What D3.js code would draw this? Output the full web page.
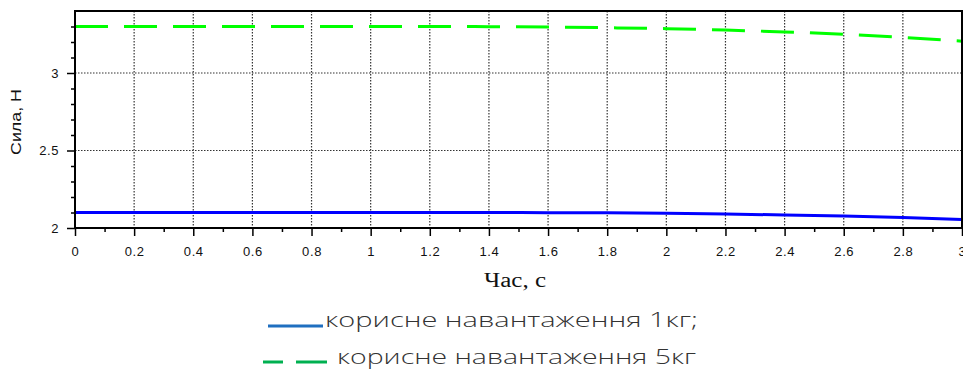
<!DOCTYPE html>
<html><head><meta charset="utf-8">
<script src="https://cdn.jsdelivr.net/npm/d3@7/dist/d3.min.js"></script>
<style>
html,body{margin:0;padding:0;background:#fff;}
svg{display:block;}
</style></head>
<body><svg id="c" width="963" height="370"></svg>
<script>
const time = [0,0.2,0.4,0.6,0.8,1.0,1.2,1.4,1.6,1.8,2.0,2.2,2.4,2.6,2.8,3.0];
const load1kg = [2.100,2.100,2.100,2.100,2.100,2.100,2.100,2.100,2.099,2.098,2.095,2.090,2.084,2.077,2.068,2.055];
const load5kg = [3.300,3.300,3.300,3.300,3.300,3.300,3.300,3.299,3.297,3.292,3.286,3.277,3.265,3.250,3.230,3.205];
const xTicks = [0,0.2,0.4,0.6,0.8,1,1.2,1.4,1.6,1.8,2,2.2,2.4,2.6,2.8,3];
const xMinor = [0.1,0.3,0.5,0.7,0.9,1.1,1.3,1.5,1.7,1.9,2.1,2.3,2.5,2.7,2.9];
const yTicks = [2,2.5,3];
const yMinor = [2.1,2.2,2.3,2.4,2.6,2.7,2.8,2.9,3.1,3.2,3.3];
const xTitle = "Час, с";
const yTitle = "Сила, Н";
const legendLabels = ["корисне навантаження 1кг;", "корисне навантаження 5кг"];

const svg = d3.select("#c");
const L = 75, R = 962, T = 11, B = 228;
const x = d3.scaleLinear().domain([0,3]).range([L,R]);
const y = d3.scaleLinear().domain([2,3.4]).range([B,T]);
const sans = "'Liberation Sans', Arial, sans-serif";

// grid
const g = svg.append("g");
g.selectAll(".vg").data(xTicks.filter(d=>d>0&&d<3)).enter().append("line")
  .attr("x1",d=>x(d)).attr("x2",d=>x(d)).attr("y1",T).attr("y2",B)
  .attr("stroke","#333").attr("stroke-width",1.2).attr("stroke-dasharray","1.5,1.5");
g.selectAll(".hg").data(yTicks.filter(d=>d>2)).enter().append("line")
  .attr("x1",L).attr("x2",R).attr("y1",d=>y(d)).attr("y2",d=>y(d))
  .attr("stroke","#333").attr("stroke-width",1.2).attr("stroke-dasharray","1.5,1.5");

// series
const line = (vals)=>d3.line().x((d,i)=>x(time[i])).y(d=>y(d)).curve(d3.curveMonotoneX)(vals);
svg.append("path").attr("d",line(load1kg)).attr("fill","none").attr("stroke","#0000ff").attr("stroke-width",3);
svg.append("path").attr("d",line(load5kg)).attr("fill","none").attr("stroke","#00ff00").attr("stroke-width",3)
  .attr("stroke-dasharray","33,16");

// axes
const xAx = svg.append("g").attr("transform",`translate(0,${B})`)
  .call(d3.axisBottom(x).tickValues(xTicks).tickSize(8).tickPadding(11).tickFormat(d=>String(+d.toFixed(1))));
const xAxMin = svg.append("g").attr("transform",`translate(0,${B})`)
  .call(d3.axisBottom(x).tickValues(xMinor).tickSize(4).tickFormat(""));
const yAx = svg.append("g").attr("transform",`translate(${L},0)`)
  .call(d3.axisLeft(y).tickValues(yTicks).tickSize(8).tickPadding(8).tickFormat(d=>String(d)));
const yAxMin = svg.append("g").attr("transform",`translate(${L},0)`)
  .call(d3.axisLeft(y).tickValues(yMinor).tickSize(4).tickFormat(""));
[xAx,xAxMin,yAx,yAxMin].forEach(a=>{
  a.selectAll(".domain").remove();
  a.selectAll(".tick line").attr("stroke","#000").attr("stroke-width",1.5);
  a.selectAll("text").attr("font-family",sans).attr("font-size",13).attr("fill","#111").attr("letter-spacing","0.6px");
});
// frame
svg.append("line").attr("x1",L).attr("x2",L).attr("y1",T-1).attr("y2",B+1).attr("stroke","#000").attr("stroke-width",2);
svg.append("line").attr("x1",L).attr("x2",R).attr("y1",B).attr("y2",B).attr("stroke","#000").attr("stroke-width",2);
svg.append("line").attr("x1",L).attr("x2",R).attr("y1",T).attr("y2",T).attr("stroke","#000").attr("stroke-width",2);
svg.append("line").attr("x1",R).attr("x2",R).attr("y1",T-1).attr("y2",B+1).attr("stroke","#000").attr("stroke-width",2);

// titles
svg.append("text").text(xTitle).attr("x",515).attr("y",287).attr("text-anchor","middle")
  .attr("font-family","'Liberation Serif','Times New Roman',serif").attr("font-size",20).attr("fill","#111")
  .attr("textLength",62).attr("lengthAdjust","spacingAndGlyphs");
svg.append("text").text(yTitle).attr("transform","translate(21,122) rotate(-90)").attr("text-anchor","middle")
  .attr("font-family",sans).attr("font-size",15).attr("fill","#111")
  .attr("textLength",66).attr("lengthAdjust","spacingAndGlyphs");

// legend
const lf = "'Open Sans', sans-serif";
svg.append("line").attr("x1",268).attr("x2",323).attr("y1",326).attr("y2",326).attr("stroke","#1f6fc0").attr("stroke-width",3);
svg.append("text").text(legendLabels[0]).attr("x",325).attr("y",327).attr("font-family",lf).attr("font-size",21)
  .attr("font-weight",300).attr("fill","#333").attr("textLength",373).attr("lengthAdjust","spacingAndGlyphs");
svg.append("line").attr("x1",263).attr("x2",283).attr("y1",362).attr("y2",362).attr("stroke","#00b050").attr("stroke-width",3);
svg.append("line").attr("x1",296).attr("x2",327).attr("y1",362).attr("y2",362).attr("stroke","#00b050").attr("stroke-width",3);
svg.append("text").text(legendLabels[1]).attr("x",337).attr("y",364).attr("font-family",lf).attr("font-size",21)
  .attr("font-weight",300).attr("fill","#333").attr("textLength",359).attr("lengthAdjust","spacingAndGlyphs");
</script></body></html>
